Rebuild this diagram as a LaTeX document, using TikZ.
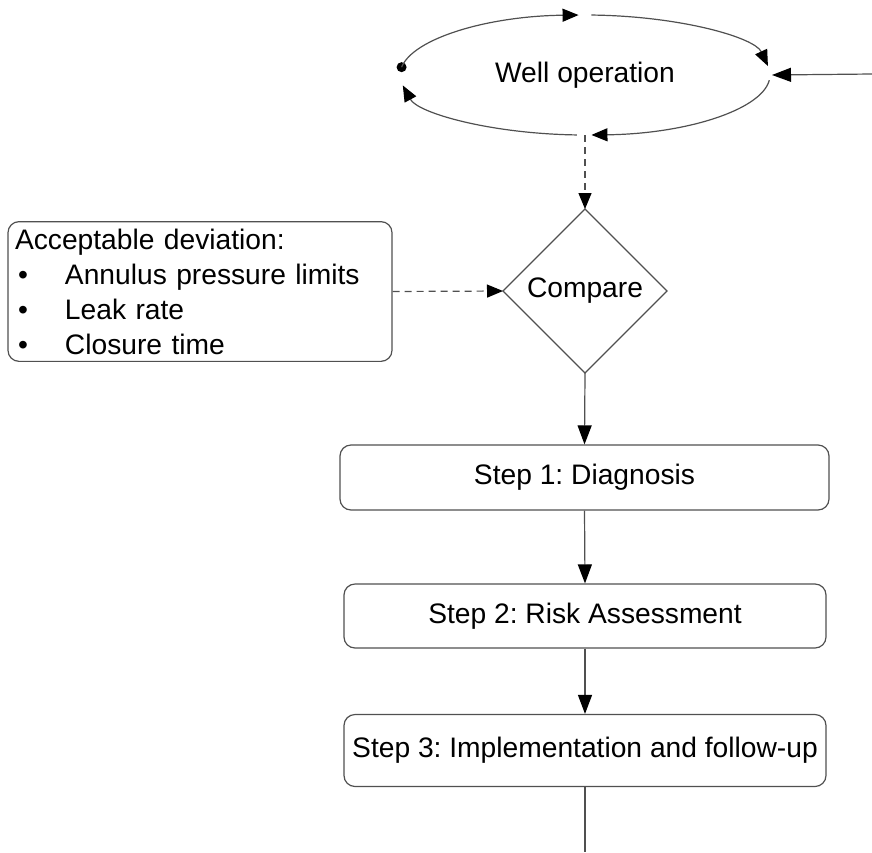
\documentclass[tikz,border=0pt]{standalone}
\usepackage{fontspec}
\setmainfont{Liberation Sans}
\usetikzlibrary{arrows.meta,shapes.geometric}

\definecolor{linegray}{RGB}{80,80,80}

\tikzset{
  base/.style={font=\fontsize{28.2}{35}\selectfont\frenchspacing, text=black},
  conn/.style={draw=linegray, line width=1.2pt},
  tip/.style={-{Triangle[length=16pt,width=13pt,color=black]}},
  bigtip/.style={-{Triangle[length=19pt,width=14pt,color=black]}},
  dashline/.style={dash pattern=on 7pt off 5pt},
  stepbox/.style={base, draw=linegray, line width=1.2pt, rounded corners=11pt,
    minimum width=484pt, text height=20pt, text depth=6pt, inner sep=0pt},
}

\begin{document}
\begin{tikzpicture}[x=1pt,y=1pt]
  \useasboundingbox (0,0) rectangle (872,-852);

  % operating loop
  \node[base, ellipse, minimum width=370pt, minimum height=120pt, inner sep=0pt, outer sep=0pt]
    (well) at (585,-75) {Well operation};
  \coordinate (feed) at (872,-74);

  % criteria box
  \node[base, draw=linegray, line width=1.2pt, rounded corners=11pt,
        text width=370pt, align=left, inner sep=7pt, minimum height=137pt]
    (dev) at (200,-291.5) {Acceptable deviation:\\
      \hspace*{3pt}\makebox[47pt][l]{\textbullet}Annulus pressure limits\\
      \hspace*{3pt}\makebox[47pt][l]{\textbullet}Leak rate\\
      \hspace*{3pt}\makebox[47pt][l]{\textbullet}Closure time};

  % decision
  \node[base, diamond, aspect=1, draw=linegray, line width=1.2pt, inner sep=0pt,
        outer sep=0pt, minimum width=164pt, minimum height=164pt]
    (cmp) at (585,-291) {Compare};

  % procedure steps
  \node[stepbox, minimum height=65pt, minimum width=489pt] (s1) at (584.5,-477.5) {Step 1: Diagnosis};
  \node[stepbox, minimum height=64pt, minimum width=482pt] (s2) at (585,-616) {Step 2: Risk Assessment};
  \node[stepbox, minimum height=72pt, minimum width=482pt] (s3) at (585,-750.5) {Step 3: Implementation and follow-up};
  \coordinate (out) at (585,-852);

  % loop arcs around the operation
  \fill[black] ([shift={(172.5:185pt and 60pt)}]well.center) circle (5pt);
  \draw[conn,tip] ([shift={(172.5:185pt and 60pt)}]well.center)
    arc[start angle=172.5, end angle=92, x radius=185pt, y radius=60pt];
  \draw[conn,tip] ([shift={(88:185pt and 60pt)}]well.center)
    arc[start angle=88, end angle=8.6, x radius=185pt, y radius=60pt];
  \draw[conn,tip] ([shift={(-5:185pt and 60pt)}]well.center)
    arc[start angle=-5, end angle=-88, x radius=185pt, y radius=60pt];
  \draw[conn,tip] ([shift={(-92.5:185pt and 60pt)}]well.center)
    arc[start angle=-92.5, end angle=-170, x radius=185pt, y radius=60pt];

  % connectors
  \draw[conn,bigtip] (feed) -- ([xshift=2pt]well.east);
  \draw[conn,tip,dashline] (well.south) -- (cmp.north);
  \draw[conn,tip,dashline] (dev.east) -- (cmp.west);
  \draw[conn,bigtip] (cmp.south) -- (s1.north);
  \draw[conn,bigtip] (s1.south) -- (s2.north);
  \draw[conn,bigtip] (s2.south) -- (s3.north);
  \draw[conn] (s3.south) -- (out);
\end{tikzpicture}
\end{document}
